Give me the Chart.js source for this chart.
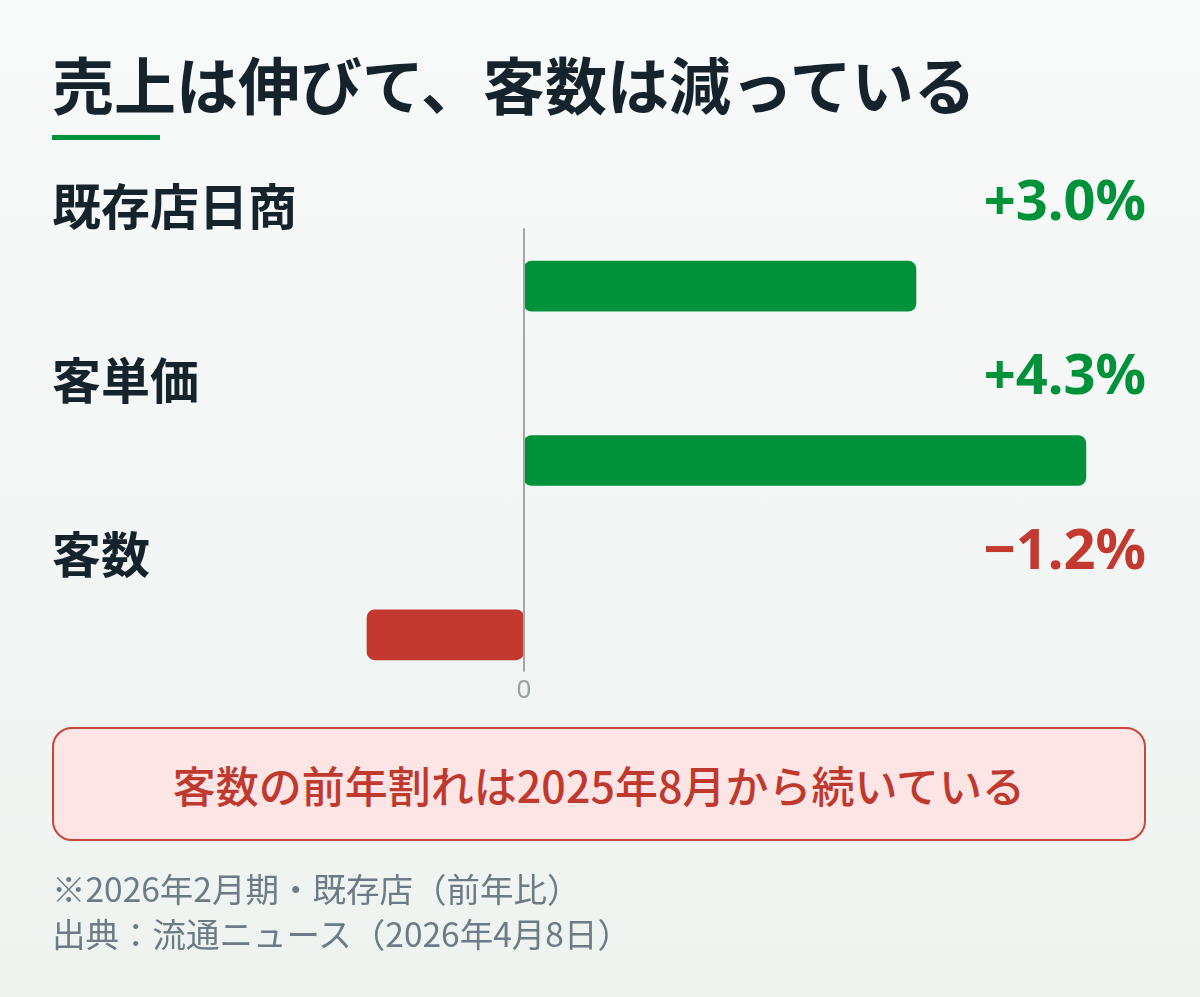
<!DOCTYPE html>
<html lang="ja">
<head>
<meta charset="utf-8">
<script src="https://cdn.jsdelivr.net/npm/chart.js@4/dist/chart.umd.min.js"></script>
<style>
    html, body {
        margin: 0;
        padding: 0;
        width: 1200px;
        height: 997px;
        overflow: hidden;
    }
    body {
        position: relative;
        background: linear-gradient(180deg, #f8faf9 0%, #eef3f0 100%);
        font-family: "Noto Sans CJK JP", "Noto Sans", sans-serif;
        color: #15232d;
    }
    #chartWrap {
        position: absolute;
        left: 0;
        top: 0;
        width: 1200px;
        height: 997px;
    }
    .title {
        position: absolute;
        left: 52px;
        top: 52px;
        font-size: 62px;
        line-height: 62px;
        font-weight: 700;
        white-space: nowrap;
    }
    .rule {
        position: absolute;
        left: 52px;
        top: 135px;
        width: 108px;
        height: 5px;
        background: #00923a;
    }
    .callout {
        position: absolute;
        left: 52px;
        top: 727px;
        width: 1090px;
        height: 110px;
        border: 2px solid #c8453b;
        border-radius: 20px;
        background: #fce5e4;
        color: #c0392f;
        font-size: 43px;
        font-weight: 500;
        display: flex;
        align-items: center;
        justify-content: center;
        white-space: nowrap;
    }
    .notes {
        position: absolute;
        left: 52px;
        top: 865px;
        font-size: 33.5px;
        line-height: 45px;
        color: #6c7b86;
        white-space: nowrap;
    }
</style>
</head>
<body>
<div id="chartWrap"><canvas id="yoyChart"></canvas></div>
<div class="title">売上は伸びて、客数は減っている</div>
<div class="rule"></div>
<div class="callout">客数の前年割れは2025年8月から続いている</div>
<div class="notes">※2026年2月期・既存店（前年比）<br>出典：流通ニュース（2026年4月8日）</div>

<script>
// 前年比（%）
const categories = ["既存店日商", "客単価", "客数"];
const values = [3.0, 4.3, -1.2];
const valueLabels = ["+3.0%", "+4.3%", "\u22121.2%"];
const xTicks = [0];

const GREEN = "#00923a";
const RED = "#c4392f";
const INK = "#15232d";

// Labels above each bar, zero line and its tick
const annotate = {
    id: "annotate",
    afterDatasetsDraw(chart) {
        const { ctx, chartArea, scales: { x, y } } = chart;
        ctx.save();

        categories.forEach((cat, i) => {
            const cy = y.getPixelForValue(i) - 80;
            ctx.textBaseline = "middle";
            ctx.fillStyle = INK;
            ctx.textAlign = "left";
            ctx.font = "700 49px 'Noto Sans CJK JP'";
            ctx.fillText(cat, chartArea.left, cy);

            ctx.fillStyle = values[i] >= 0 ? GREEN : RED;
            ctx.textAlign = "right";
            ctx.font = "700 56px 'Noto Sans', 'Noto Sans CJK JP'";
            ctx.fillText(valueLabels[i], chartArea.right, cy - 2);
        });

        const top = y.getPixelForValue(0) - 58;
        const bottom = y.getPixelForValue(categories.length - 1) + 37;
        xTicks.forEach(t => {
            const px = Math.round(x.getPixelForValue(t));
            ctx.strokeStyle = "#9fa9a5";
            ctx.lineWidth = 2;
            ctx.beginPath();
            ctx.moveTo(px, top);
            ctx.lineTo(px, bottom);
            ctx.stroke();

            ctx.fillStyle = "#97a39e";
            ctx.textAlign = "center";
            ctx.textBaseline = "middle";
            ctx.font = "26px 'Noto Sans', sans-serif";
            ctx.fillText(String(t), px, bottom + 19);
        });

        ctx.restore();
    }
};

new Chart(document.getElementById("yoyChart").getContext("2d"), {
    type: "bar",
    data: {
        labels: categories,
        datasets: [{
            data: values,
            backgroundColor: values.map(v => v >= 0 ? GREEN : RED),
            borderRadius: 8,
            borderSkipped: false,
            barThickness: 50
        }]
    },
    options: {
        indexAxis: "y",
        responsive: true,
        maintainAspectRatio: false,
        animation: false,
        layout: {
            padding: { left: 52, right: 54, top: 199, bottom: 275 }
        },
        scales: {
            x: { display: false, min: -3.61, max: 4.76 },
            y: { display: false }
        },
        plugins: {
            legend: { display: false },
            tooltip: { enabled: false }
        }
    },
    plugins: [annotate]
});
</script>
</body>
</html>
